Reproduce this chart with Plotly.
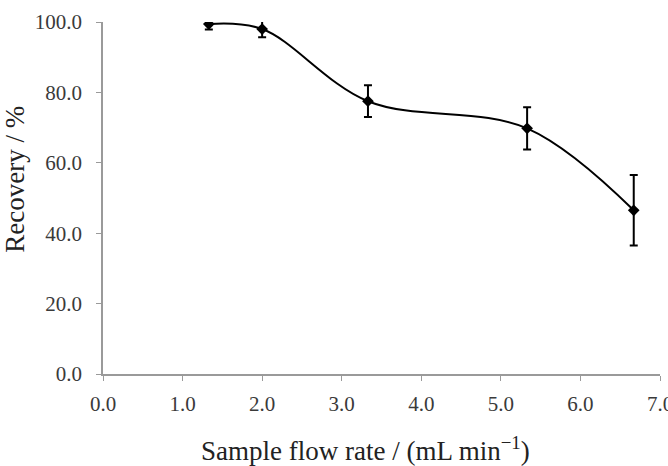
import plotly.graph_objects as go

flow_rate = [1.33, 2.0, 3.33, 5.33, 6.67]
recovery = [99.4, 98.0, 77.5, 69.8, 46.5]
error = [1.5, 2.3, 4.5, 6.0, 10.0]

x_ticks = [0, 1, 2, 3, 4, 5, 6, 7]
y_ticks = [0, 20, 40, 60, 80, 100]

x_title = "Sample flow rate / (mL min<sup>−1</sup>)"
y_title = "Recovery / %"

font_family = "Liberation Serif"

fig = go.Figure()
fig.add_trace(go.Scatter(
    x=flow_rate, y=recovery,
    mode="lines+markers",
    line=dict(color="black", width=2, shape="spline", smoothing=1.0),
    marker=dict(symbol="diamond", size=9, color="black"),
    error_y=dict(type="data", array=error, visible=True, color="black", thickness=2, width=4),
    showlegend=False,
))

axis_common = dict(
    showgrid=False, zeroline=False, showline=True, linecolor="#9a9a9a", linewidth=1.5,
    ticks="outside", tickcolor="#9a9a9a", ticklen=5, tickwidth=1,
    tickfont=dict(family=font_family, size=21, color="#3a3a3a"),
    ticklabeloverflow="allow",
)

fig.update_layout(
    width=668, height=466,
    margin=dict(l=103, r=8, t=22, b=92),
    paper_bgcolor="white", plot_bgcolor="white",
    xaxis=dict(range=[0, 7], tickvals=x_ticks, ticktext=[f"{v:.1f}" for v in x_ticks],
               ticklabelstandoff=5, **axis_common),
    yaxis=dict(range=[0, 100], tickvals=y_ticks, ticktext=[f"{v:.1f}" for v in y_ticks],
               ticklabelstandoff=10, **axis_common),
    annotations=[
        dict(text=x_title, xref="paper", yref="paper", x=0.472, y=-0.212,
             xanchor="center", yanchor="middle", showarrow=False,
             font=dict(family=font_family, size=27, color="#222222")),
        dict(text=y_title, xref="paper", yref="paper", x=-0.158, y=0.555,
             xanchor="center", yanchor="middle", textangle=-90, showarrow=False,
             font=dict(family=font_family, size=27, color="#222222")),
    ],
)
fig.update_xaxes(automargin=False)
fig.update_yaxes(automargin=False)

fig.write_html("out.html")
